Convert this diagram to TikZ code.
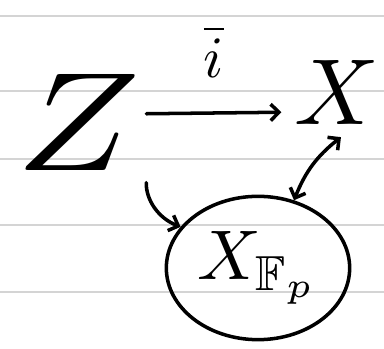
\documentclass[tikz,border=0pt]{standalone}
\usepackage{amsmath,amssymb}
\usepackage{xcolor}
\usetikzlibrary{shapes.geometric,arrows.meta}
\definecolor{rulegray}{HTML}{D4D4D4}
\definecolor{ink}{HTML}{000000}

\begin{document}
\begin{tikzpicture}[x=0.03cm,y=-0.03cm,
    stroke/.style={ink, line width=3pt, line cap=round},
    tip/.style={-{Straight Barb[length=7pt,width=14pt]}},
    twotip/.style={{Straight Barb[length=7pt,width=14pt]}-{Straight Barb[length=7pt,width=14pt]}}]
  \useasboundingbox (0,0) rectangle (384,349);
  \foreach \y in {16,91,159,225,292}
    \draw[rulegray, line width=1pt] (0,\y) -- (384,\y);
  \node[xscale=14, yscale=12, inner sep=0.2pt] (Z) at (78,122) {$Z$};
  \node[scale=8, inner sep=1.2pt] (X) at (337,92) {$X$};
  \node[ellipse, stroke, draw, minimum width=5.5cm, minimum height=4.3cm, inner sep=0pt] (Xfp) at (258,268) {\scalebox{6}{$X_{\mathbb{F}_p}$}};
  \draw[stroke, tip] (Z.8) -- node[above=6pt, scale=5] (ilabel) {$\overline{\vphantom{l}i}$} (X.200);
  \draw[stroke, tip, shorten <=6pt] (Z.south east) to[bend right=35] (Xfp.152);
  \draw[stroke, twotip] (Xfp.62) to[bend left=15] (X.-85);
\end{tikzpicture}
\end{document}
